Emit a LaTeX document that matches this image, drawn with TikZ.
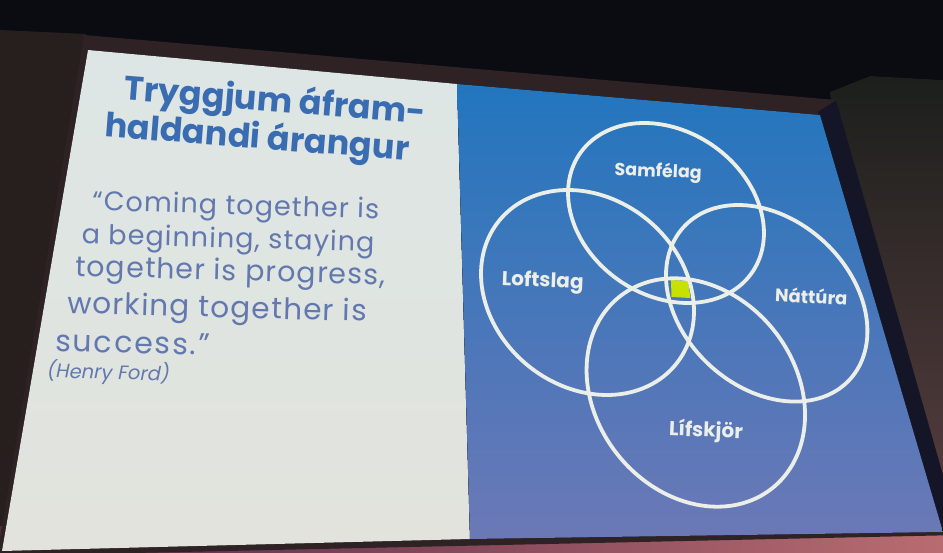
\documentclass[tikz,border=0pt]{standalone}
\usepackage{fontspec}
\setmainfont{Poppins}
\usepackage{tikz}
\usetikzlibrary{positioning}

\definecolor{roomdark}{RGB}{10,12,17}
\definecolor{wallbrown}{RGB}{38,31,29}
\definecolor{wallgrey}{RGB}{28,31,28}
\definecolor{walllow}{RGB}{92,64,66}
\definecolor{framebrown}{RGB}{46,34,36}
\definecolor{framenavy}{RGB}{20,22,40}
\definecolor{floorleft}{RGB}{86,40,72}
\definecolor{floorright}{RGB}{184,108,112}
\definecolor{paneltop}{RGB}{221,230,229}
\definecolor{panelbot}{RGB}{226,227,220}
\definecolor{bluetop}{RGB}{34,118,190}
\definecolor{bluebot}{RGB}{108,120,182}
\definecolor{titleblue}{RGB}{58,108,178}
\definecolor{quoteblue}{RGB}{98,120,174}
\definecolor{ringwhite}{RGB}{236,238,232}
\definecolor{limegreen}{RGB}{200,226,0}

% one ring: centre x, centre y, ux, vx, vy
\newcommand{\ringpath}[5]{plot[variable=\t,domain=0:355,samples=72,smooth cycle]
  ({#1+#3*cos(\t)+#4*sin(\t)},{#2+#5*sin(\t)})}

\begin{document}
\begin{tikzpicture}[x=1pt,y=-1pt]
    \tikzset{
      titleblock/.style={anchor=base west,inner sep=0pt,align=left,text=titleblue,font=\fontsize{33.5}{34.5}\selectfont\bfseries,rotate=-4.5},
      quoteline/.style={anchor=base west,inner sep=0pt,text=quoteblue,rotate=-1.6},
      ringlabel/.style={anchor=base,inner sep=0pt,text=ringwhite,rotate=-2.3},
      ring/.style={draw=ringwhite,line width=3.8pt}
    }
    \useasboundingbox (0,0) rectangle (943,553);

    % room, wall and floor
    \fill[roomdark] (0,0) rectangle (943,553);
    \fill[wallbrown] (0,30) -- (86,34) -- (0,553) -- cycle;
    \fill[top color=wallgrey,bottom color=walllow] (830,92) -- (870,76) -- (943,80) -- (943,553) -- (900,553) -- cycle;
    \shade[left color=floorleft,right color=floorright] (0,526) rectangle (943,553);

    % screen frame and the two halves of the slide
    \fill[framebrown] (84,35) -- (836,100) -- (960,535) -- (-3,556) -- cycle;
    \fill[framenavy] (818,112) -- (836,100) -- (960,535) -- (943,535) -- cycle;
    \fill[top color=paneltop,bottom color=panelbot] (88,50) -- (457,84) -- (470,539) -- (2,551) -- cycle;
    \fill[top color=bluetop,bottom color=bluebot] (457,84) -- (820,115) -- (943,532) -- (470,539) -- cycle;

    % the square where all four rings meet
    \fill[limegreen] (671,280) -- (688,281) -- (690.5,298) -- (671.5,297) -- cycle;

    \draw[ring] \ringpath{666}{213}{95.5}{21.8}{90};
    \draw[ring] \ringpath{587.5}{292.5}{104.7}{19.5}{102.5};
    \draw[ring] \ringpath{766.7}{303.3}{96.6}{28.5}{98.3};
    \draw[ring] \ringpath{695.8}{392.5}{107.1}{21.5}{114.2};

    \node[ringlabel,font=\fontsize{17.5}{17.5}\selectfont\bfseries] (samfelag) at (658,177) {Samfélag};
    \node[ringlabel,font=\fontsize{20}{20}\selectfont\bfseries] (loftslag) at (542.5,287) {Loftslag};
    \node[ringlabel,font=\fontsize{18}{18}\selectfont\bfseries,rotate=-0.4] (nattura) at (811,303.5) {Náttúra};
    \node[ringlabel,font=\fontsize{20}{20}\selectfont\bfseries] (lifskjor) at (705.7,437) {Lífskjör};

    % title and quote
    \node[titleblock] (title) at (120.5,137.8) {Tryggjum áfram-\\\hspace*{-16.5pt}haldandi árangur};

    \node[quoteline,font=\fontsize{27}{27}\selectfont\addfontfeature{LetterSpace=4}] (quote1) at (92,210.5) {“Coming together is};
    \node[quoteline,font=\fontsize{27}{27}\selectfont\addfontfeature{LetterSpace=4}] (quote2) at (81.5,243.5) {a beginning, staying};
    \node[quoteline,font=\fontsize{28.4}{28.4}\selectfont\addfontfeature{LetterSpace=4}] (quote3) at (75,276) {together is progress,};
    \node[quoteline,font=\fontsize{29.5}{29.5}\selectfont\addfontfeature{LetterSpace=4}] (quote4) at (67,313) {working together is};
    \node[quoteline,font=\fontsize{30}{30}\selectfont\addfontfeature{LetterSpace=6.5}] (quote5) at (55,351) {success.”};
    \node[quoteline,font=\fontsize{19.5}{19.5}\selectfont\itshape] (author) at (47,377.5) {(Henry Ford)};
\end{tikzpicture}
\end{document}
